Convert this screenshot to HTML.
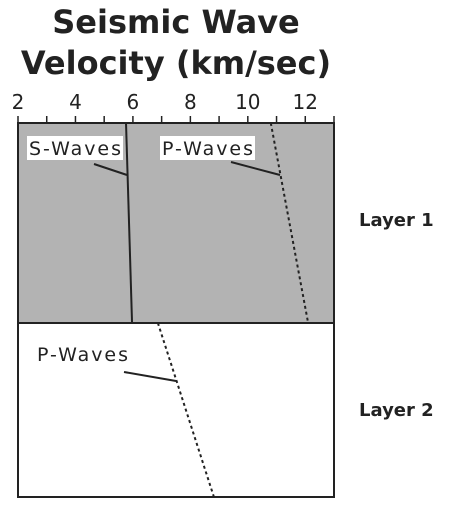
<!DOCTYPE html>
<html><head><meta charset="utf-8"><style>
body{margin:0;background:#fff;width:460px;height:514px;overflow:hidden}
svg text{font-family:"DejaVu Sans","Liberation Sans",sans-serif}
</style></head><body>
<svg id="c" width="460" height="514">
<text x="176" y="33" text-anchor="middle" font-size="32" font-weight="bold" fill="#222">Seismic Wave</text>
<text x="176" y="74" text-anchor="middle" font-size="32" font-weight="bold" fill="#222">Velocity (km/sec)</text>
<g id="g"></g>
</svg>
<script>
const ticks=[2,4,6,8,10,12];
const layers=["Layer 1","Layer 2"];
const sWaveL1=[5.76,5.97];
const pWaveL1=[10.8,12.1];
const pWaveL2=[6.87,8.82];
const xMin=2,xMax=13;
const L=18,R=334,T=123,M=323,B=497;
const x=v=>L+(v-xMin)/(xMax-xMin)*(R-L);
const g=document.getElementById('g');
const ns='http://www.w3.org/2000/svg';
function mk(t,a,txt){const e=document.createElementNS(ns,t);for(const k in a)e.setAttribute(k,a[k]);if(txt)e.textContent=txt;g.appendChild(e);return e;}
let e;
e=mk('rect',{x:L,y:T,width:R-L,height:M-T,fill:'#b3b3b3'});


e=mk('rect',{x:L,y:T,width:R-L,height:B-T,fill:'none',stroke:'#222','stroke-width':2});


e=mk('line',{x1:L,y1:M,x2:R,y2:M,stroke:'#222','stroke-width':2});


for(let v=xMin;v<=xMax;v++){
 e=mk('line',{x1:x(v),y1:T-7,x2:x(v),y2:T,stroke:'#222','stroke-width':1.5});
 
 
}
ticks.forEach(v=>{
 e=mk('text',{x:x(v),y:109,'text-anchor':'middle','font-size':20,fill:'#222'},String(v));
 
 
});
e=mk('line',{x1:x(sWaveL1[0]),y1:T,x2:x(sWaveL1[1]),y2:M,stroke:'#222','stroke-width':2});


e=mk('line',{x1:x(pWaveL1[0]),y1:T,x2:x(pWaveL1[1]),y2:M,stroke:'#222','stroke-width':2,'stroke-dasharray':'3,3'});


e=mk('line',{x1:x(pWaveL2[0]),y1:M,x2:x(pWaveL2[1]),y2:B,stroke:'#222','stroke-width':2,'stroke-dasharray':'3,3'});


function lab(name,bx,by,w,txt,lx1,ly1,lx2,ly2,box){
 if(box){e=mk('rect',{x:bx,y:by,width:w,height:24,fill:'#fff'});
 
 }
 e=mk('text',{x:bx+2,y:by+19,'font-size':19,fill:'#222',textLength:w-4},txt);
 
 
 e=mk('line',{x1:lx1,y1:ly1,x2:lx2,y2:ly2,stroke:'#222','stroke-width':2});
 
 
}
lab('s-waves-label',27,136,96,'S-Waves',94,164,127,175,true);
lab('p-waves-label-layer1',160,136,95,'P-Waves',231,162,280,175,true);
lab('p-waves-label-layer2',35,342,95,'P-Waves',124,372,176,381,false);
[226,416].forEach((yy,i)=>{
 e=mk('text',{x:359,y:yy,'font-size':18,'font-weight':'bold',fill:'#222'},layers[i]);
 
 
});
</script>
</body></html>
